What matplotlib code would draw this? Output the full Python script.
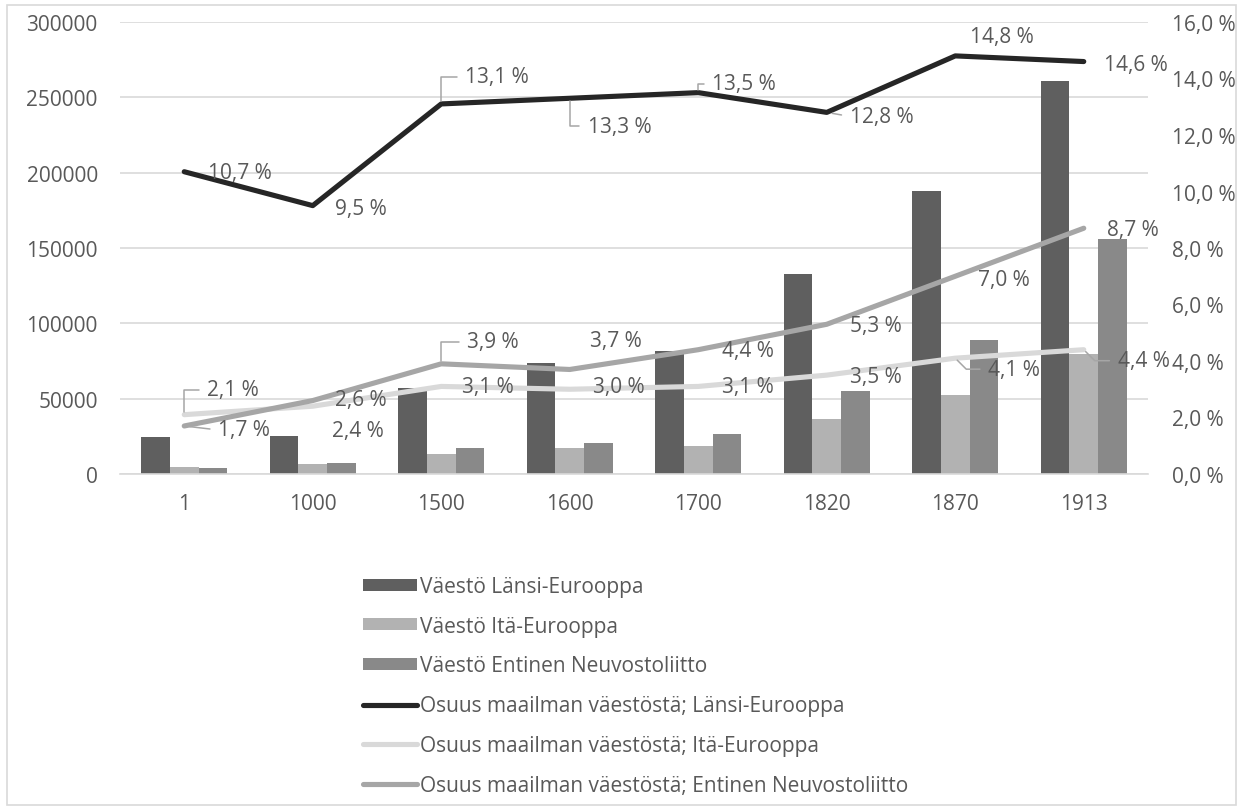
import matplotlib
matplotlib.use("Agg")
import matplotlib.pyplot as plt
import numpy as np
from matplotlib.patches import Rectangle

plt.rcParams['font.family'] = ['Open Sans', 'DejaVu Sans']

years = ["1", "1000", "1500", "1600", "1700", "1820", "1870", "1913"]
pop_west = [24700, 25413, 57268, 73778, 81460, 133040, 187504, 261007]
pop_east = [4750, 6500, 13500, 16950, 18800, 36457, 52182, 79530]
pop_ussr = [3900, 7100, 16950, 20700, 26550, 54765, 88672, 156192]
share_west = [10.7, 9.5, 13.1, 13.3, 13.5, 12.8, 14.8, 14.6]
share_east = [2.1, 2.4, 3.1, 3.0, 3.1, 3.5, 4.1, 4.4]
share_ussr = [1.7, 2.6, 3.9, 3.7, 4.4, 5.3, 7.0, 8.7]

names = ["Väestö Länsi-Eurooppa", "Väestö Itä-Eurooppa", "Väestö Entinen Neuvostoliitto",
         "Osuus maailman väestöstä; Länsi-Eurooppa", "Osuus maailman väestöstä; Itä-Eurooppa",
         "Osuus maailman väestöstä; Entinen Neuvostoliitto"]

TXT = '#595959'
GRID = '#d9d9d9'
FS = 15

W, H = 1242, 812
fig = plt.figure(figsize=(W / 100, H / 100), dpi=100)
fig.patches.append(Rectangle((7 / W, 6 / H), (1236 - 7) / W, (806 - 6) / H, transform=fig.transFigure,
                             fill=False, edgecolor=GRID, lw=1.2))

L, R, T, B = 120, 1148, 23, 475
ax = fig.add_axes([L / W, 1 - B / H, (R - L) / W, (B - T) / H])
ax2 = ax.twinx()

x = np.arange(len(years))
bw = 0.222
ax.bar(x - bw, pop_west, bw, color='#5f5f5f', label=names[0], zorder=2)
ax.bar(x, pop_east, bw, color='#b2b2b2', label=names[1], zorder=2)
ax.bar(x + bw, pop_ussr, bw, color='#898989', label=names[2], zorder=2)

ax.set_ylim(0, 300000)
ax.set_yticks(range(0, 300001, 50000))
ax.set_xlim(-0.5, len(years) - 0.5)
ax.set_xticks(x)
ax.set_xticklabels(years)
ax.yaxis.grid(True, color=GRID, lw=1.2, zorder=0)
ax.set_axisbelow(True)
for s in ['top', 'right', 'left']:
    ax.spines[s].set_visible(False)
ax.spines['bottom'].set_color(GRID)
ax.spines['bottom'].set_linewidth(1.2)
ax.tick_params(axis='both', length=0, labelsize=FS, labelcolor=TXT)
ax.tick_params(axis='y', pad=16)
ax.tick_params(axis='x', pad=14)

lw = 3.7
l1, = ax2.plot(x, share_west, color='#262626', lw=lw, solid_capstyle='round', label=names[3], zorder=3)
l2, = ax2.plot(x, share_east, color='#d9d9d9', lw=lw, solid_capstyle='round', label=names[4], zorder=3)
l3, = ax2.plot(x, share_ussr, color='#a6a6a6', lw=lw, solid_capstyle='round', label=names[5], zorder=3)
ax2.set_ylim(0, 16)
ax2.set_yticks(range(0, 17, 2))
ax2.set_yticklabels([f"{v:.1f} %".replace('.', ',') for v in range(0, 17, 2)])
for s in ['top', 'right', 'left', 'bottom']:
    ax2.spines[s].set_visible(False)
ax2.tick_params(axis='y', length=0, labelsize=FS, labelcolor=TXT, pad=17)

# label offsets in pixels (dx to left edge of text, dy of text centre), leader style
off_west = [(24, -1, None), (22, -3, None), (24, 27, 'v'), (18, -28, 'v'), (14, 9, 'v'),
            (23, -4, 'h'), (15, 19, None), (20, -3, None)]
off_east = [(23, 25, 'v'), (19, -24, None), (21, 0, None), (23, 3, None), (24, 0, None),
            (23, -1, None), (33, -11, 'd'), (34, -11, 'd')]
off_ussr = [(34, -4, 'h'), (22, 1, None), (26, 22, 'v'), (20, 29, None), (24, -1, None),
            (23, -1, None), (23, -3, None), (23, -1, None)]

def labels(vals, offs):
    for xi, v, (dx, dy, lead) in zip(x, vals, offs):
        txt = f"{v:.1f} %".replace('.', ',')
        kw = dict(xy=(xi, v), xytext=(dx, dy), textcoords='offset pixels', ha='left', va='center',
                  fontsize=FS, color=TXT, zorder=5)
        if lead == 'v':
            kw['arrowprops'] = dict(arrowstyle='-', color='#a6a6a6', lw=1.1, shrinkA=4, shrinkB=2,
                                    relpos=(0, 0.5), connectionstyle='angle,angleA=0,angleB=90,rad=0')
        elif lead == 'h':
            kw['arrowprops'] = dict(arrowstyle='-', color='#a6a6a6', lw=1.1, shrinkA=4, shrinkB=4,
                                    relpos=(0, 0.5), connectionstyle='arc3')
        elif lead == 'd':
            kw['arrowprops'] = dict(arrowstyle='-', color='#a6a6a6', lw=1.1, shrinkA=4, shrinkB=2,
                                    relpos=(0, 0.5), connectionstyle='angle,angleA=0,angleB=-45,rad=0')
        ax2.annotate(txt, **kw)

labels(share_west, off_west)
labels(share_east, off_east)
labels(share_ussr, off_ussr)

h1, lab1 = ax.get_legend_handles_labels()
h2, lab2 = ax2.get_legend_handles_labels()
leg = fig.legend(h1 + h2, lab1 + lab2, loc='upper left', bbox_to_anchor=(363 / W, 1 - 577 / H),
                 frameon=False, fontsize=FS, labelcolor=TXT, handlelength=2.6, handleheight=0.5,
                 handletextpad=0.15, labelspacing=0.9, borderpad=0, borderaxespad=0)

fig.savefig('out.png', dpi=100)
